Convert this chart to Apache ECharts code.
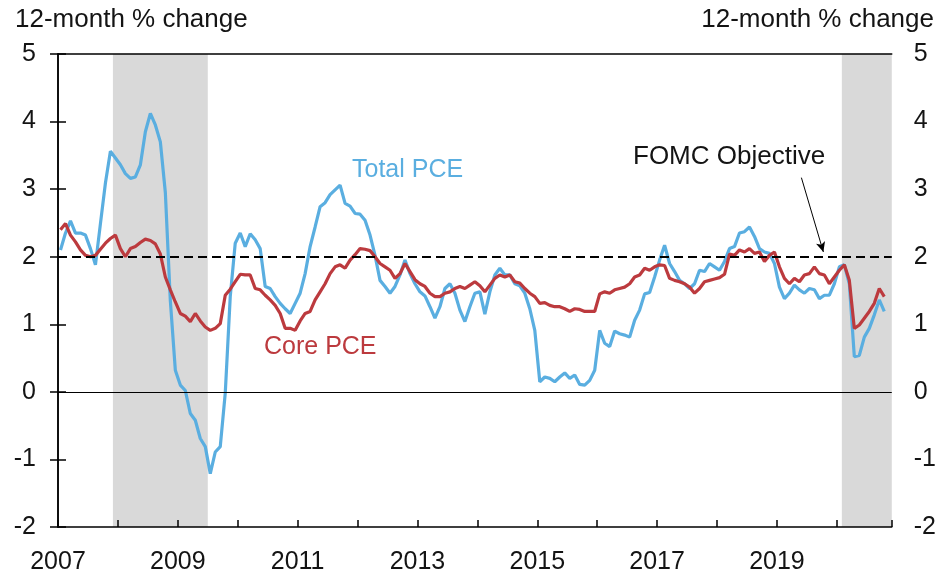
<!DOCTYPE html>
<html>
<head>
<meta charset="utf-8">
<script src="https://cdn.jsdelivr.net/npm/echarts@6.0.0/dist/echarts.min.js"></script>
<style>
  html, body { margin: 0; padding: 0; background: #fff; }
  #chart { width: 939px; height: 575px; }
</style>
</head>
<body>
<div id="chart"></div>
<script>
// monthly 12-month % change, Jan 2007 .. Oct 2020 (one row per year)
var startYear = 2007;

var totalPce = [
  2.10, 2.35, 2.53, 2.35, 2.35, 2.32, 2.12, 1.88, 2.49, 3.09, 3.56, 3.46,
  3.36, 3.23, 3.16, 3.18, 3.36, 3.85, 4.12, 3.95, 3.70, 2.95, 1.35, 0.32,
  0.10, 0.02, -0.32, -0.42, -0.69, -0.81, -1.21, -0.89, -0.81, -0.02, 1.41, 2.20,
  2.35, 2.15, 2.34, 2.25, 2.12, 1.56, 1.53, 1.41, 1.31, 1.23, 1.16, 1.31,
  1.46, 1.75, 2.15, 2.44, 2.74, 2.80, 2.92, 2.99, 3.06, 2.79, 2.75, 2.64,
  2.63, 2.54, 2.32, 2.02, 1.65, 1.56, 1.46, 1.56, 1.73, 1.95, 1.75, 1.60,
  1.48, 1.42, 1.26, 1.09, 1.26, 1.53, 1.60, 1.46, 1.21, 1.04, 1.26, 1.46,
  1.48, 1.15, 1.48, 1.73, 1.83, 1.73, 1.73, 1.60, 1.57, 1.46, 1.23, 0.91,
  0.15, 0.22, 0.20, 0.15, 0.22, 0.28, 0.20, 0.25, 0.11, 0.10, 0.17, 0.32,
  0.91, 0.72, 0.67, 0.90, 0.86, 0.84, 0.81, 1.06, 1.21, 1.45, 1.47, 1.70,
  1.95, 2.17, 1.90, 1.78, 1.65, 1.60, 1.53, 1.60, 1.80, 1.78, 1.90, 1.85,
  1.80, 1.93, 2.12, 2.15, 2.35, 2.37, 2.44, 2.30, 2.12, 2.07, 2.05, 1.90,
  1.55, 1.38, 1.46, 1.58, 1.51, 1.46, 1.53, 1.51, 1.38, 1.43, 1.43, 1.60,
  1.85, 1.88, 1.60, 0.52, 0.54, 0.81, 0.94, 1.14, 1.36, 1.19
];

var corePce = [
  2.40, 2.49, 2.32, 2.22, 2.10, 2.02, 2.00, 2.02, 2.11, 2.20, 2.27, 2.32,
  2.12, 2.00, 2.12, 2.15, 2.21, 2.26, 2.24, 2.19, 2.04, 1.70, 1.51, 1.33,
  1.16, 1.12, 1.04, 1.16, 1.05, 0.96, 0.91, 0.94, 1.01, 1.43, 1.52, 1.63,
  1.74, 1.73, 1.73, 1.53, 1.51, 1.43, 1.36, 1.28, 1.16, 0.94, 0.94, 0.91,
  1.05, 1.16, 1.19, 1.36, 1.48, 1.60, 1.75, 1.85, 1.88, 1.83, 1.95, 2.03,
  2.12, 2.11, 2.09, 2.00, 1.90, 1.85, 1.80, 1.68, 1.75, 1.90, 1.78, 1.66,
  1.60, 1.56, 1.46, 1.41, 1.41, 1.46, 1.48, 1.53, 1.56, 1.53, 1.58, 1.63,
  1.57, 1.48, 1.58, 1.68, 1.73, 1.70, 1.73, 1.63, 1.61, 1.53, 1.46, 1.41,
  1.31, 1.32, 1.28, 1.26, 1.26, 1.23, 1.19, 1.23, 1.22, 1.19, 1.19, 1.19,
  1.45, 1.48, 1.46, 1.51, 1.53, 1.55, 1.60, 1.70, 1.73, 1.83, 1.80, 1.85,
  1.88, 1.87, 1.68, 1.65, 1.63, 1.60, 1.55, 1.46, 1.53, 1.63, 1.65, 1.67,
  1.69, 1.74, 2.04, 2.02, 2.10, 2.07, 2.12, 2.05, 2.07, 1.93, 2.02, 2.07,
  1.85, 1.68, 1.60, 1.68, 1.63, 1.73, 1.75, 1.85, 1.75, 1.73, 1.60, 1.70,
  1.80, 1.88, 1.65, 0.94, 0.99, 1.09, 1.19, 1.31, 1.53, 1.41
];

// recessions, in months since Jan 2007
var recessions = [[11, 30], [157, 167]];
var fomcObjective = 2;
var yTicks = { min: -2, max: 5, step: 1 };
var xEnd = 167; // end of Dec 2020

var blue = '#5aaee0';
var red = '#bc3a3e';
var ink = '#141414';
var fontFam = '"Liberation Sans", Arial, sans-serif';

// each month plotted at its middle
function toPoints(vals) {
  return vals.map(function (v, m) { return [m + 0.5, v]; });
}

var chart = echarts.init(document.getElementById('chart'));

var yAxisBase = function (pos) {
  return {
    type: 'value',
    position: pos,
    min: yTicks.min,
    max: yTicks.max,
    interval: yTicks.step,
    z: 10,
    axisLine: { show: true, lineStyle: { color: '#000', width: 1.5 } },
    axisTick: { show: true, inside: true, length: 8, lineStyle: { color: '#000', width: 1.5 } },
    splitLine: { show: false },
    axisLabel: { fontSize: 25, fontFamily: fontFam, color: ink, margin: 22 }
  };
};

var option = {
  animation: false,
  grid: { left: 58, right: 46, top: 54, bottom: 48 },
  xAxis: [{
    type: 'value',
    min: 0,
    max: xEnd,
    interval: 12,
    z: 10,
    axisLine: { show: true, onZero: false, lineStyle: { color: '#000', width: 1.5 } },
    axisTick: { show: true, inside: true, length: 7, lineStyle: { color: '#000', width: 1.5 } },
    splitLine: { show: false },
    axisLabel: {
      fontSize: 25, fontFamily: fontFam, color: ink, margin: 23,
      formatter: function (v) {
        return (v % 24 === 0) ? String(startYear + v / 12) : '';
      }
    }
  }, {
    type: 'value',
    position: 'top',
    min: 0,
    max: xEnd,
    z: 10,
    axisLine: { show: true, onZero: false, lineStyle: { color: '#000', width: 1.5 } },
    axisTick: { show: false },
    axisLabel: { show: false },
    splitLine: { show: false }
  }],
  yAxis: [yAxisBase('left'), yAxisBase('right')],
  graphic: [
    { type: 'text', x: 15, y: 19.5, style: { text: '12-month % change', align: 'left', verticalAlign: 'middle', fontSize: 26, fontFamily: fontFam, fill: ink } },
    { type: 'text', x: 934, y: 19.5, style: { text: '12-month % change', align: 'right', verticalAlign: 'middle', fontSize: 26, fontFamily: fontFam, fill: ink } },
    { type: 'text', x: 352, y: 170.5, style: { text: 'Total PCE', align: 'left', verticalAlign: 'middle', fontSize: 25, fontFamily: fontFam, fill: blue } },
    { type: 'text', x: 264, y: 347.5, style: { text: 'Core PCE', align: 'left', verticalAlign: 'middle', fontSize: 25, fontFamily: fontFam, fill: red } },
    { type: 'text', x: 633, y: 157, style: { text: 'FOMC Objective', align: 'left', verticalAlign: 'middle', fontSize: 26, fontFamily: fontFam, fill: ink } }
  ],
  series: [
    {
      // background: recession shading
      type: 'line',
      data: [],
      silent: true,
      z: 1,
      markArea: {
        silent: true,
        itemStyle: { color: '#d9d9d9' },
        data: recessions.map(function (r) { return [{ xAxis: r[0] }, { xAxis: r[1] }]; })
      }
    },
    {
      name: 'Total PCE',
      type: 'line',
      data: toPoints(totalPce),
      showSymbol: false,
      z: 3,
      lineStyle: { color: blue, width: 3.2 },
      itemStyle: { color: blue }
    },
    {
      name: 'Core PCE',
      type: 'line',
      data: toPoints(corePce),
      showSymbol: false,
      z: 4,
      lineStyle: { color: red, width: 3.2 },
      itemStyle: { color: red },
      markLine: {
        silent: true,
        symbol: ['none', 'none'],
        label: { show: false },
        data: [
          { yAxis: fomcObjective, lineStyle: { color: '#000', type: [9, 5], width: 2 } },
          { yAxis: 0, lineStyle: { color: '#000', type: 'solid', width: 1.2 } },
          [
            { coord: [148.9, 3.17], symbol: 'none', lineStyle: { color: '#000', type: 'solid', width: 1 } },
            { coord: [153.3, 2.07], symbol: 'arrow', symbolSize: [7, 10] }
          ]
        ]
      }
    }
  ]
};

chart.setOption(option);
</script>
</body>
</html>
